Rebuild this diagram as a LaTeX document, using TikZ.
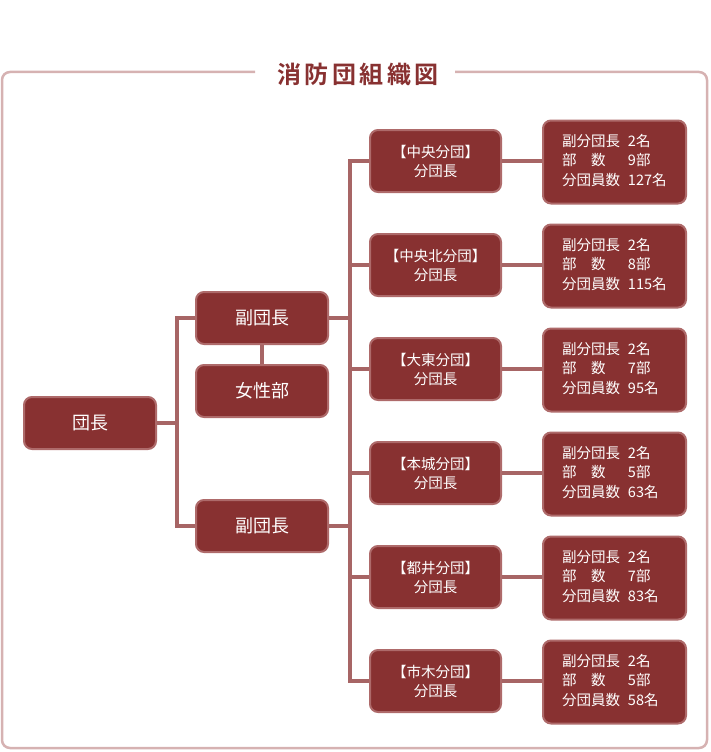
\documentclass[tikz,border=0pt]{standalone}
\usepackage{fontspec}
\setmainfont{Noto Sans CJK JP}
\newfontfamily\titlefont[LetterSpace=14]{Noto Sans CJK JP Bold}
\definecolor{boxred}{HTML}{883131}
\definecolor{boxedge}{HTML}{AE6A6A}
\definecolor{linered}{HTML}{A76565}
\definecolor{framepink}{HTML}{D6B2B2}
\newcommand{\detailtext}[3]{\fontsize{14.5}{19.5}\selectfont
  \begin{tabular}{@{}l@{\hspace{8pt}}l@{}}
  副分団長 & #1名\\
  部\hspace{1em}数 & #2部\\
  分団員数 & #3名
  \end{tabular}}
\begin{document}
\begin{tikzpicture}[x=1pt,y=-1pt,
  box/.style={draw=boxedge, line width=2pt, fill=boxred, rounded corners=8pt, text=white, inner sep=0pt},
  bigbox/.style={box, minimum width=132pt, minimum height=52pt, font=\fontsize{18}{20}\selectfont},
  branch/.style={box, minimum width=131pt, minimum height=62pt, align=center, font=\fontsize{14.5}{19}\selectfont},
  detail/.style={box, minimum width=143pt, minimum height=83pt, text width=105pt, align=left},
  conn/.style={draw=linered, line width=4pt}]
\useasboundingbox (0,0) rectangle (710,752);

% frame and title
\path[draw=framepink, line width=2.5pt, rounded corners=8pt] (255,72) -- (2,72) -- (2,748) -- (707,748) -- (707,72) -- (455,72);
\node[text=boxred, font=\titlefont\fontsize{24}{26}\selectfont] (title) at (358,74) {消防団組織図};

% main boxes
\node[bigbox] (dan) at (90,423) {団長};
\node[bigbox] (fuku1) at (262,318) {副団長};
\node[bigbox] (josei) at (262,391) {女性部};
\node[bigbox] (fuku2) at (262,526) {副団長};

% branches
\node[branch] (b1) at (435.5,161) {【中央分団】\\分団長};
\node[branch] (b2) at (435.5,265) {【中央北分団】\\分団長};
\node[branch] (b3) at (435.5,369) {【大東分団】\\分団長};
\node[branch] (b4) at (435.5,473) {【本城分団】\\分団長};
\node[branch] (b5) at (435.5,577) {【都井分団】\\分団長};
\node[branch] (b6) at (435.5,681) {【市木分団】\\分団長};

\node[detail] (d1) at (614.5,162) {\detailtext{2}{9}{127}};
\node[detail] (d2) at (614.5,266) {\detailtext{2}{8}{115}};
\node[detail] (d3) at (614.5,370) {\detailtext{2}{7}{95}};
\node[detail] (d4) at (614.5,474) {\detailtext{2}{5}{63}};
\node[detail] (d5) at (614.5,578) {\detailtext{2}{7}{83}};
\node[detail] (d6) at (614.5,682) {\detailtext{2}{5}{58}};

% connectors
\coordinate (j1) at (177,423);
\coordinate (top) at (350,161);
\coordinate (bot) at (350,681);
\path[conn] (dan) -- (j1);
\path[conn] (fuku1) -| (j1) |- (fuku2);
\path[conn] (fuku1) -- (josei);
\path[conn] (b1) -- (top) -- (bot) -- (b6);
\path[conn] (fuku1) -- (top |- fuku1);
\path[conn] (fuku2) -- (top |- fuku2);
\foreach \i in {2,...,5}
  \path[conn] (top |- b\i) -- (b\i);
\foreach \i in {1,...,6}
  \path[conn] (b\i) -- (b\i -| d\i.west);
\end{tikzpicture}
\end{document}
